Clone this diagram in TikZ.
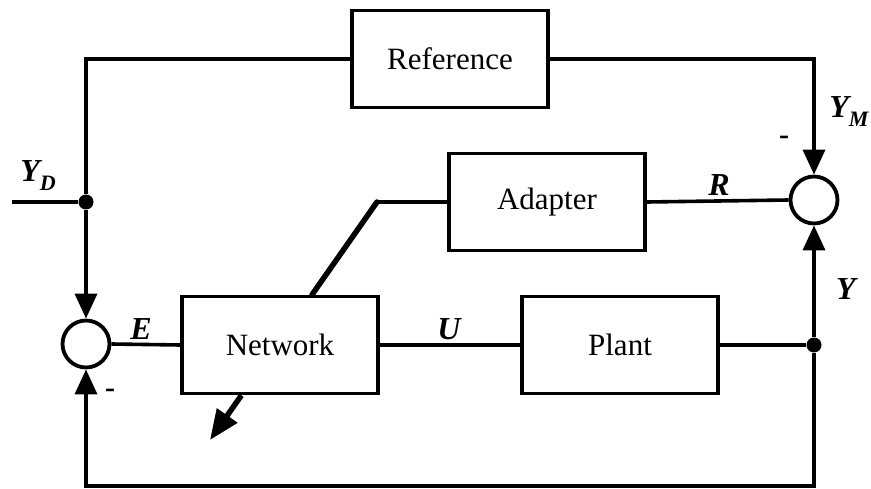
\documentclass[tikz,border=0pt]{standalone}
\usepackage{fontspec}
\setmainfont{Liberation Serif}
\usetikzlibrary{arrows.meta}
% signal name with a lowered index letter
\newcommand{\sublbl}[2]{#1\raisebox{-0.28em}{\fontsize{22}{22}\selectfont #2}}

\begin{document}
\begin{tikzpicture}[x=1pt,y=-1pt,
  every node/.style={font=\fontsize{31}{36}\selectfont},
  wire/.style={line width=3.6pt},
  thickwire/.style={line width=5.5pt},
  blk/.style={draw,line width=3.6pt,minimum width=196pt,minimum height=97pt,inner sep=0pt},
  sumnode/.style={draw,circle,line width=3.8pt,minimum size=47pt,inner sep=0pt},
  junc/.style={fill,circle,minimum size=15pt,inner sep=0pt},
  sig/.style={font=\fontsize{32}{36}\selectfont\bfseries\itshape},
  arr/.style={-{Triangle[length=25pt,width=22pt]}},
  bigarr/.style={-{Triangle[length=30pt,width=24pt]}},
  minus/.style={font=\fontsize{30}{36}\selectfont\bfseries}
]
\useasboundingbox (0,0) rectangle (871,489);

% blocks
\node[blk] (ref)   at (450,59)  {Reference};
\node[blk] (adapt) at (547,202) {Adapter};
\node[blk] (net)   at (280,345) {Network};
\node[blk] (plant) at (620,345) {Plant};

% summing points and branch dots
\node[sumnode] (s1) at (86,344) {};
\node[sumnode] (s2) at (814,200) {};
\node[junc] (jd) at (86,202) {};
\node[junc] (jy) at (814,345) {};

% free ends and corners
\coordinate (in)   at (12,202);
\coordinate (br)   at (814,486);
\coordinate (bl)   at (86,486);
\coordinate (knee) at (377,202);
\coordinate (tip)  at (210,440);

% connections
\draw[wire] (in) -- (jd);
\draw[wire] (jd) |- (ref.west);
\draw[wire,arr] (jd) -- (s1.north);
\draw[wire] (s1.east) -- (net.west);
\draw[wire] (net.east) -- (plant.west);
\draw[wire] (plant.east) -- (jy);
\draw[wire,arr] (jy) -- (s2.south);
\draw[wire,arr] (jy) -- (br) -- (bl) -- (s1.south);
\draw[wire,arr] (ref.east) -| (s2.north);
\draw[wire] (adapt.west) -- (knee);
\draw[wire] (adapt.east) -- (s2.west);

% adaptation line crossing the network block
\draw[thickwire,line cap=round] (knee) -- (intersection of knee--tip and net.north west--net.north east);
\draw[thickwire,bigarr] (intersection of knee--tip and net.south west--net.south east) -- (tip);

% signal labels
\node[sig] (lyd) at (38,176)  {\sublbl{Y}{D}};
\node[sig] (lym) at (849,112) {\sublbl{Y}{M}};
\node[sig] (lr)  at (719,185) {R};
\node[sig] (le)  at (141,329) {E};
\node[sig] (lu)  at (449,329) {U};
\node[sig] (ly)  at (846,289) {Y};
\node[minus] (m1) at (110,393) {-};
\node[minus] (m2) at (784,140) {-};
\end{tikzpicture}
\end{document}
